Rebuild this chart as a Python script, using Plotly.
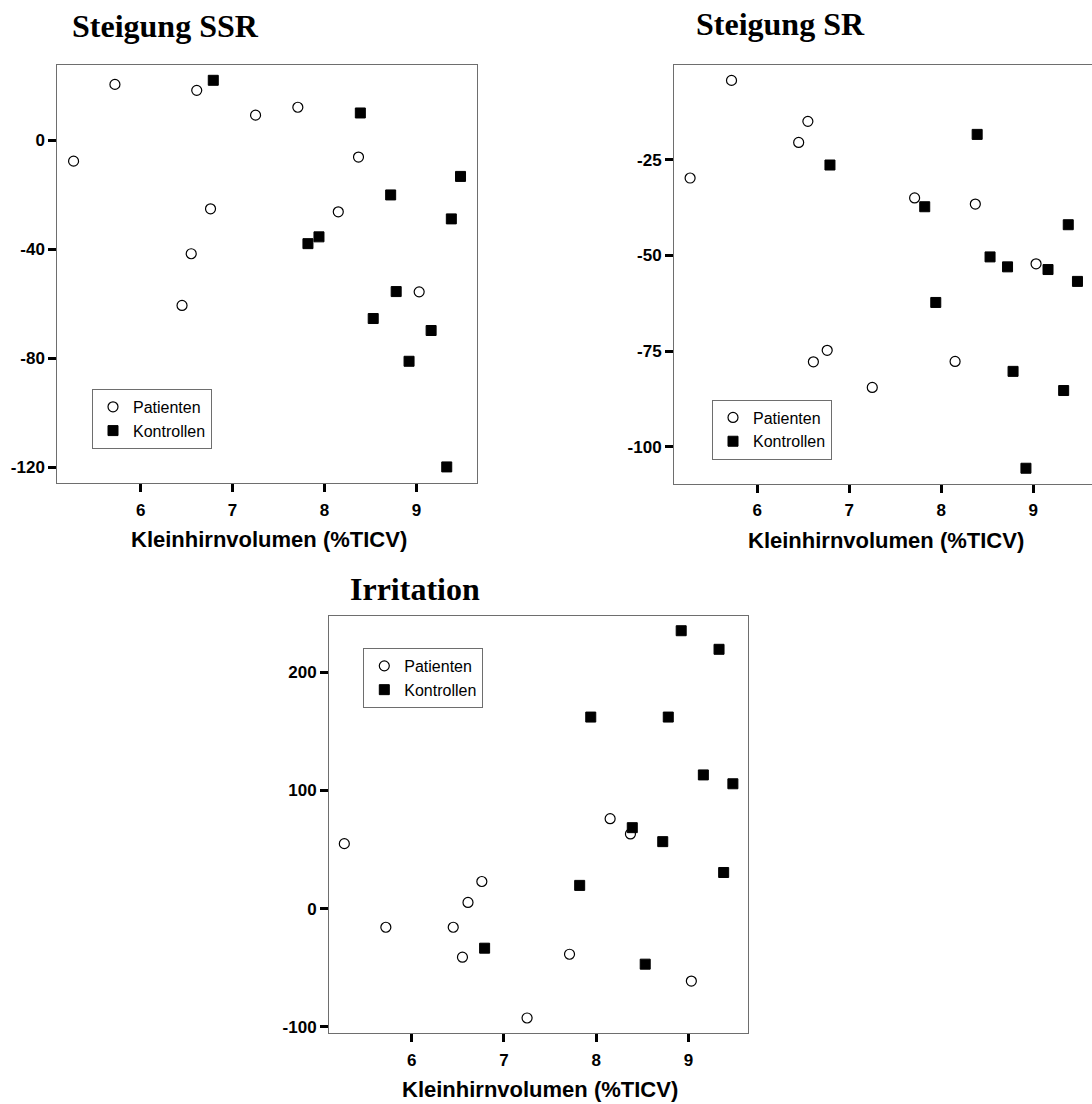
import plotly.graph_objects as go

# ---------------- data ----------------
patients_x = [5.27, 5.72, 6.45, 6.55, 6.61, 6.76, 7.25, 7.71, 8.15, 8.37, 9.03]
patients_ssr = [-7.6, 20.6, -60.6, -41.6, 18.4, -25.1, 9.3, 12.2, -26.2, -6.1, -55.6]
patients_sr = [-29.8, -4.3, -20.5, -15.0, -77.8, -74.8, -84.5, -35.0, -77.7, -36.6, -52.2]
patients_irr = [55.0, -15.7, -15.7, -41.0, 5.3, 23.0, -92.4, -38.5, 76.1, 63.2, -61.2]

controls_x = [6.79, 7.82, 7.94, 8.39, 8.53, 8.72, 8.78, 8.92, 9.16, 9.33, 9.38, 9.48]
controls_ssr = [22.1, -37.9, -35.4, 10.1, -65.4, -20.0, -55.5, -81.1, -69.8, -119.9, -28.8, -13.2]
controls_sr = [-26.4, -37.3, -62.3, -18.4, -50.4, -53.0, -80.3, -105.6, -53.7, -85.3, -42.0, -56.8]
controls_irr = [-33.4, 19.7, 162.0, 68.5, -46.9, 56.7, 162.0, 235.0, 113.1, 219.3, 30.6, 105.6]

panel_titles = ["Steigung SSR", "Steigung SR", "Irritation"]
x_title = "Kleinhirnvolumen (%TICV)"
series_names = ["Patienten", "Kontrollen"]
x_ticks = [6, 7, 8, 9]
y_ticks_ssr = [0, -40, -80, -120]
y_ticks_sr = [-25, -50, -75, -100]
y_ticks_irr = [-100, 0, 100, 200]

# ---------------- layout helpers ----------------
W, H = 1092, 1104


def px(x):
    return x / W


def py(y):
    return 1 - y / H


SANS = "Liberation Sans, Arial, sans-serif"
SERIF = "Liberation Serif, Times New Roman, serif"

panels = [
    dict(xd=(57.3, 476.7), yd=(65.7, 485.0), xr=[5.093, 9.656], yr=[-125.9, 27.55],
         yt=y_ticks_ssr, yp=patients_ssr, yc=controls_ssr, mirror=True,
         leg=(92, 390.3), title=(70, 14.0), xt=269.4),
    dict(xd=(674.0, 1092.0), yd=(65.7, 485.7), xr=[5.095, 9.638], yr=[-109.7, -0.4],
         yt=y_ticks_sr, yp=patients_sr, yc=controls_sr, mirror=False,
         leg=(712, 401.0), title=(694, 12.7), xt=886),
    dict(xd=(329.0, 748.3), yd=(618.3, 1037.0), xr=[5.104, 9.647], yr=[-105.3, 247.4],
         yt=y_ticks_irr, yp=patients_irr, yc=controls_irr, mirror=True,
         leg=(363.3, 650.3), title=(348, 579.3), xt=539.7),
]

fig = go.Figure()
annotations = []
layout = {}

for i, p in enumerate(panels):
    n = "" if i == 0 else str(i + 1)
    xa, ya = "x" + n, "y" + n
    lg = "legend" + n
    fig.add_trace(go.Scatter(
        x=patients_x, y=p["yp"], mode="markers", name=series_names[0],
        xaxis=xa, yaxis=ya, legend=lg,
        marker=dict(symbol="circle-open", size=10, color="black", line=dict(width=1.2, color="black")),
    ))
    fig.add_trace(go.Scatter(
        x=controls_x, y=p["yc"], mode="markers", name=series_names[1],
        xaxis=xa, yaxis=ya, legend=lg,
        marker=dict(symbol="square", size=10, color="black", line=dict(width=1, color="black")),
    ))
    common = dict(showgrid=False, zeroline=False, showline=True, linecolor="#6e6e6e", linewidth=1,
                  ticks="outside", ticklen=8, tickwidth=3, tickcolor="black",
                  tickfont=dict(family=SANS, size=17, color="black", weight="bold"))
    layout["xaxis" + n] = dict(domain=[px(p["xd"][0]), px(p["xd"][1])], range=p["xr"],
                               tickvals=x_ticks, ticktext=[str(v) for v in x_ticks],
                               ticklabelstandoff=3,
                               anchor=ya, mirror=True, **common)
    layout["yaxis" + n] = dict(domain=[py(p["yd"][1]), py(p["yd"][0])], range=p["yr"],
                               tickvals=p["yt"], ticktext=[str(v) for v in p["yt"]],
                               anchor=xa, mirror=p["mirror"], **common)
    layout[lg] = dict(x=px(p["leg"][0]), y=py(p["leg"][1]), xanchor="left", yanchor="top",
                      bordercolor="#6e6e6e", borderwidth=1, bgcolor="white",
                      font=dict(family=SANS, size=16, color="black"))
    annotations.append(dict(text="<b>%s</b>" % panel_titles[i], xref="paper", yref="paper",
                            x=px(p["title"][0]), y=py(p["title"][1] - 8.3),
                            xanchor="left", yanchor="top", showarrow=False,
                            font=dict(family=SERIF, size=32, color="black")))
    annotations.append(dict(text="<b>%s</b>" % x_title, xref="paper", yref="paper",
                            x=px(p["xt"]), y=py(p["yd"][1] + 47 - 5.2),
                            xanchor="center", yanchor="top", showarrow=False,
                            font=dict(family=SANS, size=22, color="black")))

fig.update_layout(
    width=W, height=H, margin=dict(l=0, r=0, t=0, b=0),
    paper_bgcolor="white", plot_bgcolor="white",
    annotations=annotations, **layout,
)

fig.write_html(
    "out.html",
    config={"displayModeBar": False},
    post_script="document.body.style.margin='0';document.body.style.overflow='hidden';",
)
